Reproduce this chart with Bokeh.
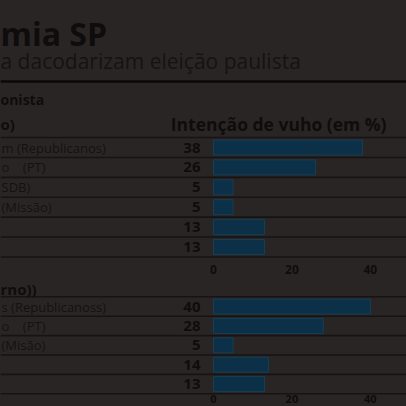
import numpy as np
from bokeh.plotting import figure
from bokeh.models import Range1d, Label
from bokeh.core.properties import value
from bokeh.embed import file_html
from bokeh.resources import INLINE

# ---- data ----
title_text = "mia SP"
subtitle_text = "a dacodarizam eleição paulista"
kicker_text = "onista"
section1_title = "o)"
section2_title = "rno))"
axis_title = "Intenção de vuho (em %)"

NB = "\u00a0"
candidates_1 = ["m (Republicanos)", "o" + NB * 4 + "(PT)", "SDB)", "(Missão)", "", ""]
values_1 = [38, 26, 5, 5, 13, 13]
candidates_2 = ["s (Republicanoss)", "o" + NB * 4 + "(PT)", "(Misão)", "", ""]
values_2 = [40, 28, 5, 14, 13]
tick_values = [0, 20, 40]

# ---- layout / style ----
W = H = 406
X0 = 213.0      # pixel of value 0
K = 3.92        # pixels per percentage point
FONT = "Open Sans"
INK = "#0f0c0c"
BAR = "#0b3048"
SEP = "#181313"


def px2x(px):
    return (px - X0) / K


p = figure(width=W, height=H, output_backend="svg", toolbar_location=None,
           x_range=Range1d(px2x(0), px2x(W)), y_range=Range1d(H, 0),
           x_axis_location=None, y_axis_location=None, min_border=0)
p.grid.visible = False
p.outline_line_color = None
p.background_fill_color = "#2a2525"
p.border_fill_color = "#2a2525"

# background vignette (decoration)
ny, nx = 40, 80
xs = np.linspace(0, 1, nx) ** 1.1
ys = np.clip(np.linspace(0, 1, ny) / 0.38, 0, 1)
left_top, right_top = np.array([30, 27, 27]), np.array([58, 54, 54])
left_bot, right_bot = np.array([40, 35, 34]), np.array([76, 66, 65])
img = np.zeros((ny, nx), dtype=np.uint32)
view = img.view(dtype=np.uint8).reshape((ny, nx, 4))
for j in range(ny):
    top = left_top + (right_top - left_top) * xs[:, None]
    bot = left_bot + (right_bot - left_bot) * xs[:, None]
    col = top + (bot - top) * ys[j]
    view[j, :, 0:3] = col.astype(np.uint8)
    view[j, :, 3] = 255
p.image_rgba(image=[img[::-1]], x=px2x(0), y=H, dw=px2x(W) - px2x(0), dh=H)

xl, xr = px2x(0), px2x(W)


def section(names, vals, y0, step):
    n = len(vals)
    ys_c = [y0 + i * step for i in range(n)]
    seps = [y0 - step / 2 + i * step for i in range(n + 1)]
    p.segment(x0=[xl] * len(seps), x1=[xr] * len(seps), y0=seps, y1=seps,
              line_color=SEP, line_width=1.6)
    p.hbar(y=ys_c, left=0, right=vals, height=15, fill_color=BAR,
           line_color="#163f55", line_width=1)
    p.text(x=[px2x(1)] * n, y=ys_c, text=names, text_font=value(FONT),
           text_font_size="13px", text_color="#141111", text_baseline="middle",
           text_align="left")
    p.text(x=[px2x(200)] * n, y=ys_c, text=[str(v) for v in vals],
           text_font=value(FONT), text_font_size="15px", text_font_style="bold",
           text_color=INK, text_baseline="middle", text_align="right")
    return seps[-1]


section(candidates_1, values_1, 147, 19.9)
section(candidates_2, values_2, 306, 19.4)

# tick labels
for ty, fs in ((269, "12px"), (398, "11px")):
    p.text(x=tick_values, y=[ty] * len(tick_values), text=[str(t) for t in tick_values],
           text_font=value(FONT), text_font_size=fs, text_font_style="bold",
           text_color=INK, text_baseline="middle", text_align="center")

# thick rule
p.segment(x0=[xl], x1=[xr], y0=[81], y1=[81], line_color="#0a0808", line_width=2.5)

labels = [
    (0, 33, title_text, "32px", "bold", INK, "left"),
    (0, 60, subtitle_text, "21px", "normal", "#161212", "left"),
    (0, 99, kicker_text, "14px", "bold", INK, "left"),
    (0, 123, section1_title, "15px", "bold", INK, "left"),
    (386, 123, axis_title, "17.5px", "bold", INK, "right"),
    (0, 288, section2_title, "15px", "bold", INK, "left"),
]
for px, py, txt, size, style, color, align in labels:
    p.add_layout(Label(x=px2x(px), y=py, text=txt, text_font=FONT,
                       text_font_size=size, text_font_style=style,
                       text_color=color, text_align=align,
                       text_baseline="alphabetic"))

html = file_html(p, INLINE)
html = html.replace("<head>", "<head><style>html,body{margin:0;padding:0;background:#2a2525;overflow:hidden}</style>", 1)
open("out.html", "w").write(html)
